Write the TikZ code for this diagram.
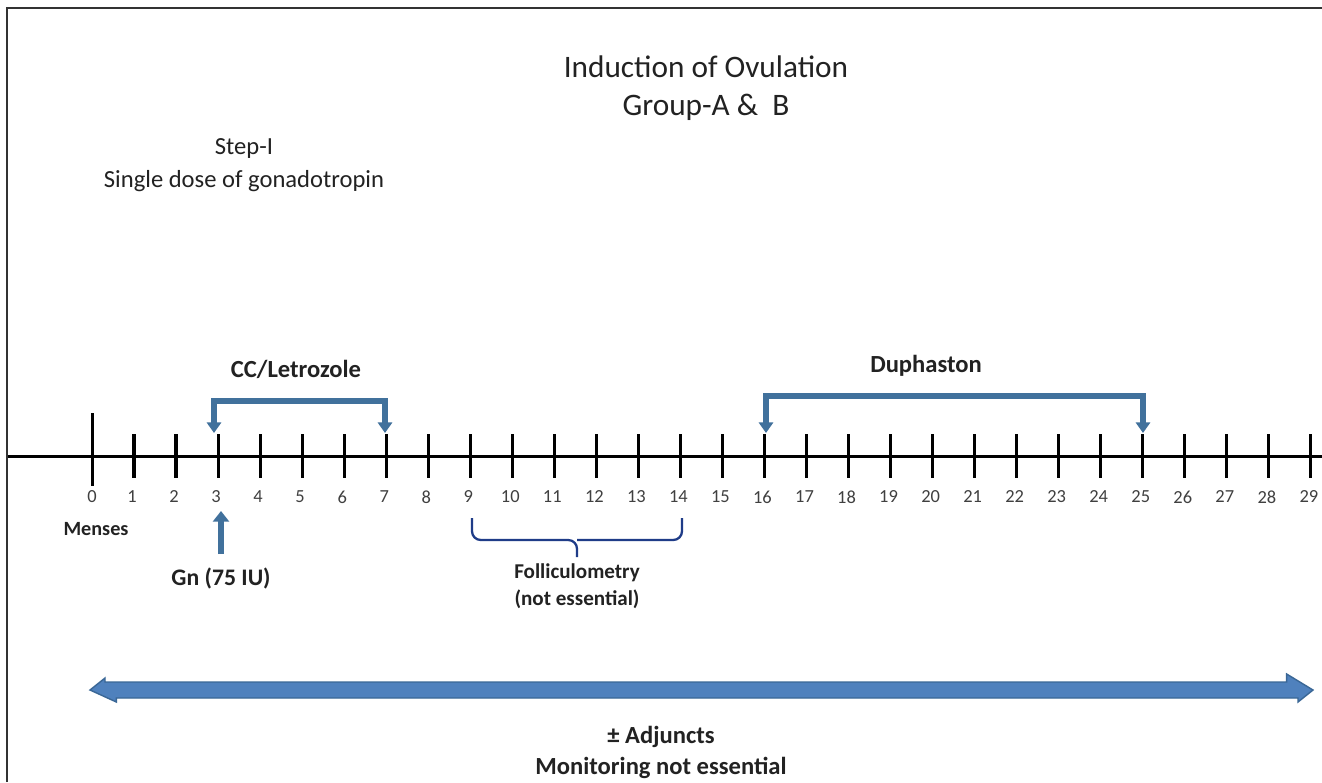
\documentclass[tikz,border=0pt]{standalone}
\usepackage{fontspec}
\setmainfont{Carlito}
\usetikzlibrary{arrows.meta}
\definecolor{bluearr}{HTML}{41719C}
\definecolor{bigfill}{HTML}{4F81BD}
\definecolor{bigedge}{HTML}{3A6796}
\definecolor{bracecol}{HTML}{1F3C88}
\definecolor{txt}{HTML}{222222}
\definecolor{numcol}{HTML}{404040}
\tikzset{
  tickmark/.style={line width=1.8pt, black},
  axisline/.style={line width=1.7pt, black},
  numlbl/.style={font=\fontsize{10.5}{12}\selectfont, text=numcol, inner sep=0pt},
  bracketarrow/.style={line width=3.2pt, bluearr, {Triangle[width=8pt,length=6pt]}-{Triangle[width=8pt,length=6pt]}},
  boldlbl/.style={font=\bfseries\fontsize{14}{17.6}\selectfont, text=txt, inner sep=0pt, align=center},
}
\begin{document}
\begin{tikzpicture}[x=0.02cm, y=-0.02cm]
\useasboundingbox (0,0) rectangle (1322,782);
\fill[white] (0,0) rectangle (1322,782);
% frame (left and top)
\draw[line width=1.2pt, black!80] (7,782) -- (7,8) -- (1322,8);
% titles
\node[font=\fontsize{17.8}{21.5}\selectfont, text=txt, align=center, inner sep=0pt] (title) at (706,88) {Induction of Ovulation\\Group-A \&\ \ B};
\node[font=\fontsize{14}{18.7}\selectfont, text=txt, align=center, inner sep=0pt] (step) at (244,165) {Step-I\\Single dose of gonadotropin};
% axis
\coordinate (axl) at (8,456);
\coordinate (axr) at (1322,456);
\draw[axisline] (axl) -- (axr);
\draw[tickmark] (92.5,413) coordinate (tt0) -- (92.5,486) coordinate (tb0);
\node[numlbl] (n0) at (92,497) {0};
\foreach \i in {1,...,29}{
  \pgfmathsetmacro{\xx}{92+42.03*\i}
  \draw[tickmark] (\xx,434) coordinate (tt\i) -- (\xx,478) coordinate (tb\i);
  \node[numlbl] (n\i) at (\xx-2,497) {\i};
}
% Menses
\node[font=\bfseries\fontsize{11.5}{13}\selectfont, text=txt, inner sep=0pt] (menses) at (96,529) {Menses};
% Gn arrow
\node[boldlbl, font=\bfseries\fontsize{13.5}{16}\selectfont] (gn) at (221,578) {Gn (75 IU)};
\coordinate (gnbase) at (221,554);
\coordinate (gntip) at (221,511);
\draw[line width=3.4pt, bluearr, -{Triangle[width=9pt,length=6pt]}] (gnbase) -- (gntip);
% CC/Letrozole bracket
\node[boldlbl] (cc) at (296,369) {CC/Letrozole};
\coordinate (cca) at (214,433);
\coordinate (ccb) at (385,433);
\draw[bracketarrow] (cca) -- (214,401) -- (385,401) -- (ccb);
% Duphaston bracket
\node[boldlbl] (du) at (926,366) {Duphaston};
\coordinate (dua) at (766,433);
\coordinate (dub) at (1143,433);
\draw[bracketarrow] (dua) -- (766,396) -- (1143,396) -- (dub);
% Folliculometry brace
\coordinate (bl) at (472,518);
\coordinate (br) at (682,518);
\coordinate (bt) at (577,557);
\draw[line width=1.3pt, bracecol, rounded corners=5] (bl) -- (472,540) -- (577,540) -- (bt);
\draw[line width=1.3pt, bracecol, rounded corners=5] (br) -- (682,540) -- (577,540);
\node[font=\bfseries\fontsize{12}{15.3}\selectfont, text=txt, align=center, inner sep=0pt] (foll) at (577,586) {Folliculometry\\(not essential)};
% big double arrow
\coordinate (bigl) at (90,690);
\coordinate (bigr) at (1313,690);
\filldraw[fill=bigfill, draw=bigedge, line width=0.8pt]
  (bigl) -- ++(15,-12) -- ++(0,4) -- ([xshift=-15]bigr |- 0,682) -- ++(0,-8) -- (bigr)
  -- ++(-15,12) -- ++(0,-4) -- ([xshift=15]bigl |- 0,698) -- ++(0,4) -- cycle;
\node[boldlbl] (adj) at (661,752) {± Adjuncts\\Monitoring not essential};
\end{tikzpicture}
\end{document}
